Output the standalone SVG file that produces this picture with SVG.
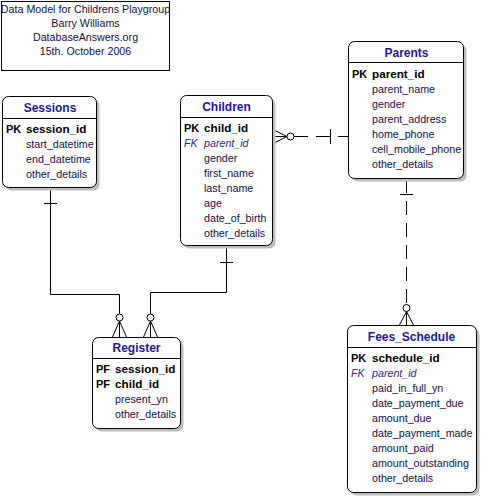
<svg xmlns="http://www.w3.org/2000/svg" width="481" height="498" viewBox="0 0 481 498">
<style>
text{font-family:"Liberation Sans",Arial,sans-serif;font-size:10.7px;fill:#10104a}
.ttl{font-weight:bold;font-size:12px;fill:#1a1a9a;text-anchor:middle}
.k{font-weight:bold;font-size:11.7px;fill:#000}
.kl{font-weight:bold;font-size:11px;fill:#000}
.fk{font-style:italic;fill:#2a2a8a}
.box{fill:#fff;stroke:#000;stroke-width:1}
.sh{fill:#bdbdbd}
.ln{fill:none;stroke:#000;stroke-width:1}
.dl{fill:none;stroke:#000;stroke-width:1;stroke-dasharray:14,8}
.hd{stroke:#000;stroke-width:1}
.c{fill:#fff;stroke:#000;stroke-width:1}
</style>
<rect width="481" height="498" fill="#fff"/>
<g id="title">
<rect x="1.5" y="1.5" width="168" height="69" fill="#fff" stroke="#000"/>
<text x="85.5" y="12.5" text-anchor="middle">Data Model for Childrens Playgroup</text>
<text x="85.5" y="26.5" text-anchor="middle">Barry Williams</text>
<text x="85.5" y="40.5" text-anchor="middle">DatabaseAnswers.org</text>
<text x="85.5" y="54.5" text-anchor="middle">15th. October 2006</text>
</g>
<g id="connectors">
<!-- Sessions - Register -->
<path class="ln" d="M50.5,188 V294.5 H119.5 V314"/>
<path class="ln" d="M44,203.5 H57"/>
<circle class="c" cx="119.5" cy="317.5" r="3.5"/>
<path class="ln" d="M119.5,321 L112.5,337 M119.5,321 V337 M119.5,321 L126.5,337"/>
<!-- Children - Register -->
<path class="ln" d="M226.5,245 V292.5 H150.5 V314"/>
<path class="ln" d="M220,262.5 H233"/>
<circle class="c" cx="150.5" cy="317.5" r="3.5"/>
<path class="ln" d="M150.5,321 L143.5,337 M150.5,321 V337 M150.5,321 L157.5,337"/>
<!-- Children - Parents -->
<path class="dl" d="M294,136.5 H348"/>
<path class="ln" d="M330.5,129 V144"/>
<circle class="c" cx="290.5" cy="136.5" r="3.5"/>
<path class="ln" d="M287,136.5 L273,129.5 M287,136.5 H273 M287,136.5 L273,143.5"/>
<!-- Parents - Fees_Schedule -->
<path class="dl" d="M406.5,179 V304"/>
<path class="ln" d="M400,194.5 H413"/>
<circle class="c" cx="406.5" cy="308" r="3.5"/>
<path class="ln" d="M406.5,311.5 L399.5,325 M406.5,311.5 V325 M406.5,311.5 L413.5,325"/>
</g>
<g id="sessions">
<rect class="sh" x="5.5" y="99.5" width="94" height="91" rx="6"/>
<rect class="box" x="2.5" y="96.5" width="94" height="91" rx="6"/>
<line class="hd" x1="2.5" y1="118.5" x2="96.5" y2="118.5"/>
<text class="ttl" x="50" y="112">Sessions</text>
<text class="kl" x="6" y="133">PK</text><text class="k" x="26" y="133">session_id</text>
<text x="26" y="148">start_datetime</text>
<text x="26" y="163">end_datetime</text>
<text x="26" y="178">other_details</text>
</g>
<g id="children">
<rect class="sh" x="183.5" y="98.5" width="92" height="150" rx="6"/>
<rect class="box" x="180.5" y="95.5" width="92" height="150" rx="6"/>
<line class="hd" x1="180.5" y1="117.5" x2="272.5" y2="117.5"/>
<text class="ttl" x="226.5" y="110.5">Children</text>
<text class="kl" x="184" y="132">PK</text><text class="k" x="204" y="132">child_id</text>
<text class="fk" x="184" y="147">FK</text><text class="fk" x="204" y="147">parent_id</text>
<text x="204" y="162">gender</text>
<text x="204" y="177">first_name</text>
<text x="204" y="192">last_name</text>
<text x="204" y="207">age</text>
<text x="204" y="222">date_of_birth</text>
<text x="204" y="237">other_details</text>
</g>
<g id="parents">
<rect class="sh" x="351.5" y="44.5" width="115" height="137" rx="6"/>
<rect class="box" x="348.5" y="41.5" width="115" height="137" rx="6"/>
<line class="hd" x1="348.5" y1="62.5" x2="463.5" y2="62.5"/>
<text class="ttl" x="406.5" y="56.5">Parents</text>
<text class="kl" x="352" y="78">PK</text><text class="k" x="372" y="78">parent_id</text>
<text x="372" y="93">parent_name</text>
<text x="372" y="108">gender</text>
<text x="372" y="123">parent_address</text>
<text x="372" y="138">home_phone</text>
<text x="372" y="153">cell_mobile_phone</text>
<text x="372" y="168">other_details</text>
</g>
<g id="register">
<rect class="sh" x="95.5" y="340.5" width="88" height="91" rx="6"/>
<rect class="box" x="92.5" y="337.5" width="88" height="91" rx="6"/>
<line class="hd" x1="92.5" y1="358.5" x2="180.5" y2="358.5"/>
<text class="ttl" x="136.5" y="352">Register</text>
<text class="kl" x="96" y="373">PF</text><text class="k" x="115" y="373">session_id</text>
<text class="kl" x="96" y="388">PF</text><text class="k" x="115" y="388">child_id</text>
<text x="115" y="403">present_yn</text>
<text x="115" y="418">other_details</text>
</g>
<g id="fees_schedule">
<rect class="sh" x="350.5" y="328.5" width="129" height="167" rx="6"/>
<rect class="box" x="347.5" y="325.5" width="129" height="167" rx="6"/>
<line class="hd" x1="347.5" y1="347.5" x2="476.5" y2="347.5"/>
<text class="ttl" x="411.5" y="341">Fees_Schedule</text>
<text class="kl" x="351" y="362">PK</text><text class="k" x="372" y="362">schedule_id</text>
<text class="fk" x="351" y="377">FK</text><text class="fk" x="372" y="377">parent_id</text>
<text x="372" y="392">paid_in_full_yn</text>
<text x="372" y="407">date_payment_due</text>
<text x="372" y="422">amount_due</text>
<text x="372" y="437">date_payment_made</text>
<text x="372" y="452">amount_paid</text>
<text x="372" y="467">amount_outstanding</text>
<text x="372" y="482">other_details</text>
</g>
</svg>
